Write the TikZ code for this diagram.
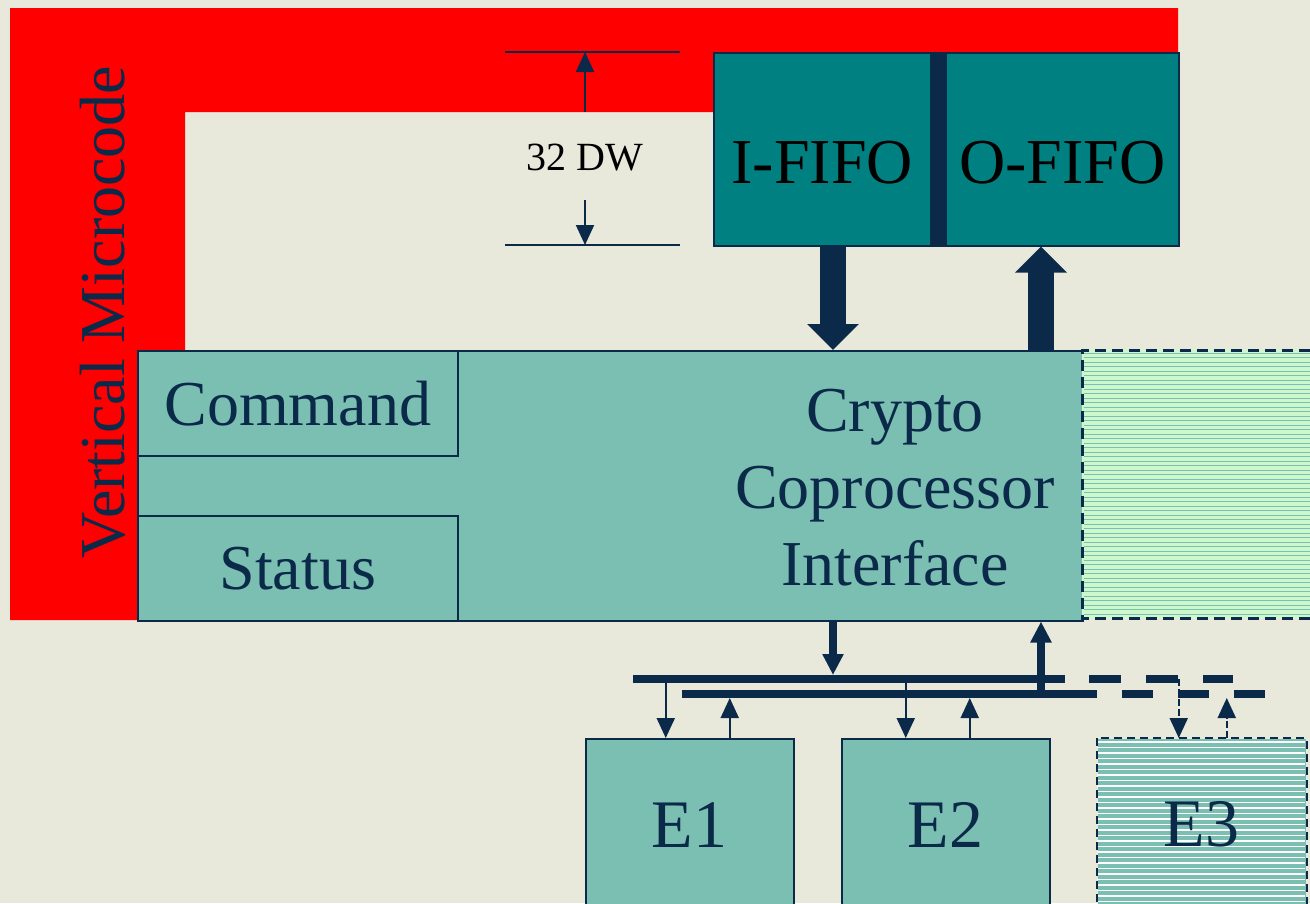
\documentclass[tikz,border=0pt]{standalone}
\usepackage{fontspec}
\setmainfont{Liberation Serif}
\usetikzlibrary{arrows.meta, positioning}
\definecolor{navy}{HTML}{0B2A4A}
\definecolor{cpiteal}{HTML}{7ABFB2}
\definecolor{fifoteal}{HTML}{008080}
\definecolor{paper}{HTML}{E8E8DB}
\definecolor{mint}{HTML}{CCF8CC}
\newcommand{\bigfont}{\fontsize{64}{77}\selectfont}

\begin{document}
\begin{tikzpicture}[x=1pt, y=-1pt]
    \tikzstyle{blockbox}=[draw=navy, line width=1.5pt, fill=cpiteal, anchor=north west, inner sep=0pt, text=navy, font=\bigfont]
    \tikzstyle{fifobox}=[draw=navy, line width=1.5pt, fill=fifoteal, anchor=north west, inner sep=0pt, text=black, font=\bigfont, text height=70pt]
    \tikzstyle{ebox}=[blockbox, minimum width=208pt, minimum height=172pt, font=\fontsize{68}{80}\selectfont]
    \tikzstyle{fatarrow}=[draw=navy, line width=26pt, -{Triangle[width=50pt,length=26pt]}]
    \tikzstyle{busarrow}=[draw=navy, line width=8pt, -{Triangle[width=20pt,length=21pt]}]
    \tikzstyle{tap}=[draw=navy, line width=2pt, -{Triangle[width=18pt,length=20pt]}]
    \tikzstyle{bus}=[draw=navy, line width=8pt]
    \tikzstyle{dashborder}=[draw=navy, line width=3pt, dash pattern=on 11pt off 6pt]
    % background and microcode band
    \fill[paper] (0,0) rectangle (1310,903);
    \useasboundingbox (0,0) rectangle (1310,903);
    \fill[red] (10,8) -- (1178,8) -- (1178,112) -- (185,112) -- (185,620) -- (10,620) -- cycle;
    \node[rotate=90, text=navy, font=\bigfont, inner sep=0pt] (vmc) at (103,312) {Vertical Microcode};
    % 32 DW dimension
    \coordinate (dwtop) at (585,52);
    \coordinate (dwbot) at (585,245);
    \coordinate (dwup) at (585,112);
    \coordinate (dwdown) at (585,200);
    \draw[navy, line width=2pt] ([xshift=-80pt]dwtop) -- ([xshift=95pt]dwtop);
    \draw[navy, line width=2pt] ([xshift=-80pt]dwbot) -- ([xshift=95pt]dwbot);
    \draw[tap] (dwup) -- (dwtop);
    \draw[tap] (dwdown) -- (dwbot);
    \node[font=\fontsize{40}{48}\selectfont, inner sep=0pt] (dw) at (585,158) {32 DW};
    % FIFOs
    \node[fifobox, minimum width=217pt, minimum height=193pt] (ififo) at (713,52) {I-FIFO};
    \node[fifobox, minimum width=233pt, minimum height=193pt] (ofifo) at (945,52) {O-FIFO};
    \fill[navy] (ififo.north east) rectangle (ofifo.south west);
    % coprocessor interface
    \node[blockbox, minimum width=945pt, minimum height=270pt] (cpi) at (137,350) {};
    \node[blockbox, minimum width=320pt, minimum height=105pt] (command) at (137,350) {Command};
    \node[blockbox, minimum width=320pt, minimum height=105pt] (status) at (137,515) {Status};
    \node[text=navy, font=\bigfont, align=center, inner sep=0pt] (cpitext) at (895,488) {Crypto\\Coprocessor\\Interface};
    \node[anchor=north west, fill=mint, minimum width=228pt, minimum height=268pt, inner sep=0pt] (ext) at (1082,350) {};
    \foreach \y in {353,357.5,...,616}
      \draw[cpiteal, line width=1pt] (1084,\y) -- (1310,\y);
    \draw[dashborder] (ext.north east) -- (ext.north west) -- (ext.south west) -- (ext.south east);
    % FIFO arrows
    \coordinate (inx) at (833,0);
    \coordinate (outx) at (1041,0);
    \draw[fatarrow] (ififo.south -| inx) -- (cpi.north -| inx);
    \draw[fatarrow] (cpi.north -| outx) -- (ofifo.south -| outx);
    % execution units
    \node[ebox] (e1) at (585,738) {E1};
    \node[ebox] (e2) at (841,738) {E2};
    \node[ebox, draw=none] (e3) at (1097,738) {};
    \begin{scope}
      \clip (e3.north west) rectangle (e3.south east);
      \foreach \y in {742,747.5,...,903}
        \draw[white, line width=1.5pt] (1097,\y) -- (1305,\y);
    \end{scope}
    \draw[dashborder, line width=2pt, dash pattern=on 8pt off 5pt] (e3.north west) rectangle (e3.south east);
    \node[text=navy, font=\fontsize{68}{80}\selectfont, inner sep=0pt] (e3label) at (e3.center) {E3};
    % buses
    \coordinate (bus1w) at (633,679);
    \coordinate (bus1e) at (1065,679);
    \coordinate (bus2w) at (682,694);
    \coordinate (bus2e) at (1097,694);
    \draw[bus] (bus1w) -- (bus1e);
    \draw[bus] (bus2w) -- (bus2e);
    \draw[bus, dash pattern=on 32pt off 25pt] ([xshift=24pt]bus1e) -- ([xshift=168pt]bus1e);
    \draw[bus, dash pattern=on 31pt off 25pt] ([xshift=25pt]bus2e) -- ([xshift=168pt]bus2e);
    \draw[busarrow, shorten >=4pt] (cpi.south -| inx) -- (inx |- bus1w);
    \draw[busarrow] (outx |- bus2w) -- (cpi.south -| outx);
    \draw[tap] ([xshift=-24pt]e1.north |- bus1w) -- ([xshift=-24pt]e1.north);
    \draw[tap, shorten >=4pt] ([xshift=40pt]e1.north) -- ([xshift=40pt]e1.north |- bus2w);
    \draw[tap] ([xshift=-40pt]e2.north |- bus1w) -- ([xshift=-40pt]e2.north);
    \draw[tap, shorten >=4pt] ([xshift=24pt]e2.north) -- ([xshift=24pt]e2.north |- bus2w);
    \draw[tap, dash pattern=on 7pt off 3pt] ([xshift=-23pt]e3.north |- bus1w) -- ([xshift=-23pt]e3.north);
    \draw[tap, dash pattern=on 7pt off 3pt, shorten >=4pt] ([xshift=25pt]e3.north) -- ([xshift=25pt]e3.north |- bus2w);
\end{tikzpicture}
\end{document}
